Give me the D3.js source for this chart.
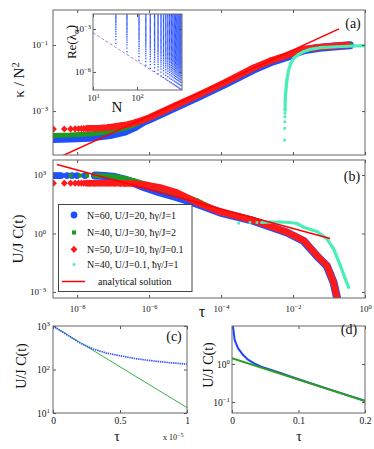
<!DOCTYPE html>
<html>
<head>
<meta charset="utf-8">
<script src="https://cdn.jsdelivr.net/npm/d3@7/dist/d3.min.js"></script>
<style>
  body { margin: 0; background: #fff; }
  text { font-family: "Liberation Serif", "DejaVu Serif", serif; fill: #111; }
</style>
</head>
<body>
<div id="chart"></div>
<script>
// ---------- data ----------
// (a) kappa / N^2 against tau, pairs [tau, value]
var blueA = [[2.14e-9,1.42e-4],[6.34e-9,1.47e-4],[2.28e-8,1.57e-4],[8.18e-8,1.87e-4],[2.14e-7,2.39e-4],
  [4.06e-7,3.27e-4],[6.76e-7,4.65e-4],[1.06e-6,5.7e-4],[5.24e-6,1.27e-3],[2.59e-5,2.82e-3],[1.28e-4,6.5e-3],
  [8.04e-4,1.8e-2],[2.28e-3,2.95e-2],[6.76e-3,4.35e-2],[1.28e-2,5.8e-2],[2.14e-2,7.1e-2],[5.58e-2,8.3e-2],
  [0.166,9.2e-2],[0.38,9.9e-2]];
var greenA = [[2.14e-9,1.81e-4],[6.34e-9,1.87e-4],[2.28e-8,2.01e-4],[8.18e-8,2.39e-4],[2.14e-7,3.05e-4],
  [4.06e-7,3.9e-4],[6.76e-7,4.98e-4],[1.06e-6,6.14e-4],[5.24e-6,1.37e-3],[2.59e-5,3.05e-3],[1.28e-4,7.05e-3],
  [8.04e-4,1.94e-2],[2.28e-3,3.16e-2],[6.76e-3,4.65e-2],[1.28e-2,6.14e-2],[2.14e-2,7.41e-2],[5.58e-2,8.51e-2],
  [0.166,9.33e-2],[0.38,0.1]];
var redDotsA = [[2.2e-9,2.85e-4],[4.4e-9,2.87e-4],[6.6e-9,2.88e-4],[8.8e-9,2.9e-4],[1.1e-8,2.92e-4],
  [1.32e-8,2.93e-4],[1.54e-8,2.95e-4],[1.76e-8,2.97e-4]];
var redA = [[1.98e-8,2.98e-4],[2.2e-8,3.0e-4],[3e-8,3.02e-4],[4.5e-8,3.07e-4],[7e-8,3.2e-4],[1.1e-7,3.4e-4],
  [1.7e-7,3.65e-4],[2.6e-7,3.95e-4],[4e-7,4.5e-4],[6.5e-7,5.3e-4],[1.06e-6,6.5e-4],[5.24e-6,1.45e-3],
  [2.59e-5,3.2e-3],[1.28e-4,7.4e-3],[8.04e-4,2.05e-2],[2.28e-3,3.3e-2],[6.76e-3,4.85e-2],[1.28e-2,6.35e-2],
  [2.14e-2,7.6e-2],[4.13e-2,8.3e-2],[7.83e-2,8.9e-2],[0.134,9.3e-2],[0.185,9.6e-2],[0.33,0.1]];
var cyanDotsA = [[5.83e-3,1.32e-4],[5.86e-3,2.99e-4],[5.9e-3,4.74e-4],[5.94e-3,6.71e-4],[5.97e-3,8.51e-4]];
var cyanA = [[6.0e-3,1.07e-3],[6.07e-3,2.15e-3],[6.34e-3,4.33e-3],[6.76e-3,8.71e-3],[7.53e-3,1.75e-2],
  [8.73e-3,2.79e-2],[1.04e-2,3.95e-2],[1.43e-2,5.22e-2],[1.97e-2,6.27e-2],[3.0e-2,7.41e-2],[5.69e-2,8.28e-2],
  [0.166,8.87e-2],[0.482,9.33e-2],[1.0,9.55e-2]];
var analyticA = [[2.14e-9,3.28e-5],[0.19,0.309]];

// (a) inset: Re(lambda_alpha) against N
var insetN = [33, 59, 111, 158, 200, 250, 300, 350, 400, 450, 500, 550, 600, 650, 700, 750, 800, 850, 900, 950, 1000];
var insetLow = [1.0e-4, 2.6e-5, 6.5e-6, 3.0e-6, 1.8e-6, 1.1e-6, 7.5e-7, 5.4e-7, 4.1e-7, 3.2e-7, 2.55e-7, 2.1e-7,
  1.75e-7, 1.5e-7, 1.28e-7, 1.11e-7, 9.7e-8, 8.6e-8, 7.6e-8, 6.8e-8, 6.1e-8];
var insetRatio = [1, 1.8, 3, 4.5, 6.5, 9, 12, 16, 21, 27, 34, 42, 52, 64, 78, 95, 115, 140, 170, 205, 250, 300,
  360, 430, 520, 620, 750, 900, 1080, 1300, 1560, 1870, 2250, 2700, 3250, 3900, 4700, 5600, 6700, 8000, 9600,
  11500, 13800, 16500, 19800, 23800, 28500, 34000, 41000, 49000, 59000, 71000, 85000, 102000, 122000, 147000,
  176000, 211000];
var insetFit = [[10,5.5e-4],[1050,5.5e-8]];

// (b) U/J C(t) against tau
var blueDotsB = [[2.14e-9,942],[2.43e-9,942],[2.76e-9,942],[3.14e-9,942],[3.57e-9,942],[5.24e-9,942],
  [7.21e-9,942],[9.93e-9,942],[1.66e-8,942]];
var blueB = [[3.14e-8,942],[5.95e-8,889],[1.13e-7,789],[2.14e-7,587],[4.06e-7,366],[7.69e-7,229],[2e-6,127],
  [5.83e-6,72.8],[1.69e-5,38.9],[9.48e-5,11.9],[8.04e-4,4.38],[6.76e-3,1.12],[1.97e-2,0.412],[4.6e-2,7.02e-2],
  [8.73e-2,2.15e-2],[0.134,3.07e-3],[0.166,5.22e-4]];
var greenDotsB = [[6.64e-9,942],[1.2e-8,942],[1.9e-8,942]];
var greenB = [[3.14e-8,942],[8.18e-8,889],[1.55e-7,745],[3.64e-7,522],[1.06e-6,290],[3.08e-6,160],[8.89e-6,88.9],
  [2.09e-5,49.2],[9.48e-5,12.3],[8.04e-4,4.5],[6.76e-3,1.15],[1.97e-2,0.425],[4.6e-2,7.2e-2],[8.73e-2,2.2e-2],
  [0.134,3.1e-3],[0.163,6e-4]];
var redDotsB = [[2.2e-9,380],[4.4e-9,380],[6.6e-9,380],[8.8e-9,380],[1.1e-8,380],[1.32e-8,380],[1.54e-8,380],
  [1.76e-8,380]];
var redB = [[1.98e-8,380],[2.2e-8,380],[3e-8,380],[4.5e-8,380],[7e-8,378],[1.1e-7,376],[1.6e-7,374],[2.14e-7,372],
  [3.64e-7,366],[8.57e-7,307],[2e-6,229],[5.83e-6,127],[1.69e-5,49.2],[2.59e-5,33.3],[9.48e-5,12.7],[8.04e-4,4.64],
  [6.76e-3,1.17],[1.97e-2,0.438],[4.6e-2,7.45e-2],[8.73e-2,2.29e-2],[0.134,3.18e-3],[0.166,4.8e-4]];
var cyanDotsB = [[3.08e-4,3.37],[6.34e-4,3.66],[9.93e-4,3.66]];
var cyanB = [[1.37e-3,3.66],[2.28e-3,3.89],[4.33e-3,3.89],[8.18e-3,3.66],[1.28e-2,3.26],[1.97e-2,2.1],[4.6e-2,1.27],
  [8.73e-2,0.535],[0.134,0.164],[0.205,2.29e-2],[0.282,4.75e-3],[0.35,1.76e-3]];
var analyticB = [[2.75e-9,3430],[0.107,0.55]];
var legendLabels = ["N=60, U/J=20, \u0127\u03b3/J=1", "N=40, U/J=30, \u0127\u03b3/J=2",
  "N=50, U/J=10, \u0127\u03b3/J=0.1", "N=40, U/J=0.1, \u0127\u03b3/J=1", "analytical solution"];

// (c) short times
var cTau = [0, 0.5e-6, 1e-6, 2e-6, 3e-6, 4e-6, 5e-6, 6.25e-6, 7.5e-6, 8.75e-6, 1e-5];
var cBlue = [1000, 800, 640, 410, 295, 238, 207, 176, 157, 143, 133];
var cGreenTau = [0, 1e-5];
var cGreen = [1000, 13.3];

// (d) longer times
var dTau = [0.0006, 0.0015, 0.004, 0.009, 0.0165, 0.024, 0.034, 0.044, 0.059, 0.074, 0.089, 0.1, 0.15, 0.2];
var dBlue = [14, 9.6, 4.3, 2.6, 1.75, 1.3, 1.02, 0.85, 0.7, 0.57, 0.46, 0.395, 0.205, 0.107];
var dGreenTau = [0, 0.2];
var dGreen = [1.41, 0.106];

// ---------- colours ----------
var BLUE = "#1f4fff", GREEN = "#1e9a1e", RED = "#ff1a1a", CYAN = "#48efb6";

var svg = d3.select("#chart").append("svg")
  .attr("width", 374).attr("height", 449);
svg.append("rect").attr("width", 374).attr("height", 449).attr("fill", "#fff");

// scales
var xAB = d3.scaleLog().domain([Math.pow(10, -8.67), 1]).range([53, 365]);
var yA = d3.scaleLog().domain([Math.pow(10, -4.33), Math.pow(10, 0.06)]).range([155, 10]);
var yB = d3.scaleLog().domain([Math.pow(10, -3.31), Math.pow(10, 3.77)]).range([298, 160]);
var xC = d3.scaleLinear().domain([0, 1e-5]).range([53, 187]);
var yC = d3.scaleLog().domain([10, 1000]).range([413, 326]);
var xD = d3.scaleLinear().domain([0, 0.2]).range([232, 365]);
var yD = d3.scaleLog().domain([Math.pow(10, -1.29), 10]).range([413, 326]);
var xI = d3.scaleLog().domain([10, 1050]).range([93, 182]);
var yI = d3.scaleLog().domain([Math.pow(10, -7.26), Math.pow(10, -1.95)]).range([90, 14]);

var clipId = 0;
function panel(x, y) {
  var g = svg.append("g");
  var id = "clip" + (clipId++);
  g.append("clipPath").attr("id", id).append("rect")
    .attr("x", x.range()[0]).attr("y", y.range()[1])
    .attr("width", x.range()[1] - x.range()[0]).attr("height", y.range()[0] - y.range()[1]);
  g.inner = g.append("g").attr("clip-path", "url(#" + id + ")");
  return g;
}

function powLabels(sel) {
  sel.selectAll(".tick text").each(function (d) {
    var e = Math.round(Math.log10(d));
    var t = d3.select(this).text(null);
    t.append("tspan").text("10");
    t.append("tspan").attr("dy", "-0.5em").attr("font-size", "0.72em")
      .text(e < 0 ? "\u2212" + (-e) : String(e));
  });
}

// box with inward ticks on all four sides
function frame(g, x, y, o) {
  var x0 = x.range()[0], x1 = x.range()[1], yb = y.range()[0], yt = y.range()[1];
  function style(a) {
    a.select(".domain").remove();
    a.attr("color", "#555").attr("font-family", null).attr("font-size", o.fs || 9);
    a.selectAll(".tick text").attr("fill", "#222");
  }
  var bottom = g.append("g").attr("transform", "translate(0," + yb + ")")
    .call(d3.axisBottom(x).tickValues(o.xt).tickSize(-3).tickPadding(o.xpad || 6)
      .tickFormat(o.xf || function () { return ""; })).call(style);
  g.append("g").attr("transform", "translate(0," + yt + ")")
    .call(d3.axisTop(x).tickValues(o.xt).tickSize(-3).tickFormat("")).call(style);
  var left = g.append("g").attr("transform", "translate(" + x0 + ",0)")
    .call(d3.axisLeft(y).tickValues(o.yt).tickSize(-3).tickPadding(o.ypad || 4)
      .tickFormat(o.yf || function () { return ""; })).call(style);
  g.append("g").attr("transform", "translate(" + x1 + ",0)")
    .call(d3.axisRight(y).tickValues(o.yt).tickSize(-3).tickFormat("")).call(style);
  if (o.xlog) powLabels(bottom);
  if (o.ylog) powLabels(left);
  g.append("rect").attr("x", x0).attr("y", yt).attr("width", x1 - x0).attr("height", yb - yt)
    .attr("fill", "none").attr("stroke", "#666").attr("stroke-width", 1);
}

var diamond = "M0,-3.6L3.4,0L0,3.6L-3.4,0Z";
var styles = {
  blue: { color: BLUE, width: 8, mark: d3.symbol(d3.symbolCircle, 36)() },
  green: { color: GREEN, width: 5, mark: d3.symbol(d3.symbolSquare, 17)() },
  red: { color: RED, width: 6.5, mark: diamond },
  cyan: { color: CYAN, width: 3.2, mark: d3.symbol(d3.symbolSquare, 7)() }
};

function series(g, x, y, dots, band, s) {
  var line = d3.line().x(function (d) { return x(d[0]); }).y(function (d) { return y(d[1]); });
  g.append("path").datum(band).attr("d", line).attr("fill", "none")
    .attr("stroke", s.color).attr("stroke-width", s.width)
    .attr("stroke-linecap", "round").attr("stroke-linejoin", "round");
  g.selectAll(null).data(dots.concat(band)).enter().append("path")
    .attr("transform", function (d) { return "translate(" + x(d[0]) + "," + y(d[1]) + ")"; })
    .attr("d", s.mark).attr("fill", s.color);
}

function plainLine(g, x, y, data, color, width, dash) {
  var line = d3.line().x(function (d) { return x(d[0]); }).y(function (d) { return y(d[1]); });
  g.append("path").datum(data).attr("d", line).attr("fill", "none")
    .attr("stroke", color).attr("stroke-width", width).attr("stroke-dasharray", dash || null);
}

// ---------- panel (a) ----------
var pa = panel(xAB, yA);
series(pa.inner, xAB, yA, [], blueA, styles.blue);
series(pa.inner, xAB, yA, [], greenA, styles.green);
series(pa.inner, xAB, yA, redDotsA, redA, styles.red);
series(pa.inner, xAB, yA, cyanDotsA, cyanA, styles.cyan);
plainLine(pa.inner, xAB, yA, analyticA, "#ff0000", 1.5);
frame(pa, xAB, yA, { xt: [1e-8, 1e-6, 1e-4, 1e-2, 1], yt: [1e-3, 1e-1], ylog: true,
  yf: function (d) { return d; }, ypad: 5, fs: 9 });

// inset
var pi = panel(xI, yI);
pi.insert("rect", ":first-child").attr("x", 93).attr("y", 14).attr("width", 89).attr("height", 76).attr("fill", "#fff");
var insetPts = [];
insetN.forEach(function (n, i) {
  insetRatio.forEach(function (r) { insetPts.push([n, insetLow[i] * r]); });
});
pi.inner.selectAll(null).data(insetPts).enter().append("rect")
  .attr("x", function (d) { return xI(d[0]) - 0.65; })
  .attr("y", function (d) { return yI(d[1]) - 0.65; })
  .attr("width", 1.3).attr("height", 1.3).attr("fill", "#2f55ff");
plainLine(pi.inner, xI, yI, insetFit, "#b07ef0", 1, "3,2");
frame(pi, xI, yI, { xt: [10, 100], yt: [1e-6, 1e-3], xlog: true, ylog: true,
  xf: function (d) { return d; }, yf: function (d) { return d; }, xpad: 5, ypad: 2, fs: 9 });

// ---------- panel (b) ----------
var pb = panel(xAB, yB);
series(pb.inner, xAB, yB, blueDotsB, blueB, styles.blue);
series(pb.inner, xAB, yB, greenDotsB, greenB, styles.green);
series(pb.inner, xAB, yB, redDotsB, redB, styles.red);
series(pb.inner, xAB, yB, cyanDotsB, cyanB, styles.cyan);
plainLine(pb.inner, xAB, yB, analyticB, "#ff0000", 1.5);
frame(pb, xAB, yB, { xt: [1e-8, 1e-6, 1e-4, 1e-2, 1], yt: [1e-3, 1, 1e3], xlog: true, ylog: true,
  xf: function (d) { return d; }, yf: function (d) { return d; }, xpad: 8, ypad: 7, fs: 9 });

// legend
var lg = svg.append("g");
lg.append("rect").attr("x", 58.5).attr("y", 204.5).attr("width", 133.5).attr("height", 87)
  .attr("fill", "#fff").attr("stroke", "#444").attr("stroke-width", 1);
var rowY = [215, 232.5, 249.3, 264.5, 281.5];
var legendStyles = [styles.blue, styles.green, styles.red, styles.cyan];
legendStyles.forEach(function (s, i) {
  lg.append("path").attr("transform", "translate(74," + rowY[i] + ")").attr("d", s.mark).attr("fill", s.color);
  lg.append("text").attr("x", 87).attr("y", rowY[i] + 3.5).attr("font-size", 10).text(legendLabels[i]);
});
lg.append("line").attr("x1", 62).attr("x2", 85).attr("y1", rowY[4]).attr("y2", rowY[4])
  .attr("stroke", "#ff0000").attr("stroke-width", 1.5);
lg.append("text").attr("x", 98).attr("y", rowY[4] + 3.5).attr("font-size", 10).text(legendLabels[4]);

// ---------- panel (c) ----------
var pc = panel(xC, yC);
plainLine(pc.inner, xC, yC, cGreenTau.map(function (t, i) { return [t, cGreen[i]]; }), "#3cb043", 1);
plainLine(pc.inner, xC, yC, cTau.map(function (t, i) { return [t, cBlue[i]]; }), "#3355ff", 1.7, "1.4,0.8");
frame(pc, xC, yC, { xt: [0, 0.5e-5, 1e-5], yt: [10, 100, 1000], ylog: true,
  xf: function (d) { return d3.format("~g")(d / 1e-5); }, yf: function (d) { return d; },
  xpad: 4, ypad: 3, fs: 9.5 });

// ---------- panel (d) ----------
var pd = panel(xD, yD);
plainLine(pd.inner, xD, yD, dTau.map(function (t, i) { return [t, dBlue[i]]; }), "#1f44ff", 2);
plainLine(pd.inner, xD, yD, dGreenTau.map(function (t, i) { return [t, dGreen[i]]; }), "#2b9e1e", 2);
frame(pd, xD, yD, { xt: [0, 0.1, 0.2], yt: [0.1, 1], ylog: true,
  xf: function (d) { return d3.format("~g")(d); }, yf: function (d) { return d; },
  xpad: 4, ypad: 2, fs: 9.5 });

// ---------- labels ----------
function vlabel(x, y, size) {
  return svg.append("text").attr("transform", "translate(" + x + "," + y + ") rotate(-90)")
    .attr("text-anchor", "middle").attr("font-size", size);
}
var k = vlabel(24, 80, 15);
k.append("tspan").text("\u03ba / N");
k.append("tspan").attr("dy", "-0.45em").attr("font-size", "0.7em").text("2");
vlabel(23, 239, 15).text("U/J C(t)");
vlabel(26, 366, 14).text("U/J C(t)");
vlabel(213, 365, 14).text("U/J C(t)");
var re = vlabel(76, 42, 13);
re.append("tspan").text("Re(\u03bb");
re.append("tspan").attr("dy", "0.35em").attr("font-size", "0.7em").text("\u03b1");
re.append("tspan").attr("dy", "-0.35em").text(")");

function label(x, y, size, str) {
  return svg.append("text").attr("x", x).attr("y", y).attr("text-anchor", "middle")
    .attr("font-size", size).text(str);
}
label(117, 112, 15, "N");
label(202, 317, 16, "\u03c4");
label(117, 441, 14, "\u03c4");
label(299, 441, 14, "\u03c4");
label(353, 28, 14, "(a)");
label(352, 181, 14, "(b)");
label(174, 341, 14, "(c)");
label(349, 334, 14, "(d)");
var mult = svg.append("text").attr("x", 163).attr("y", 440).attr("font-size", 8);
mult.append("tspan").text("x 10");
mult.append("tspan").attr("dy", "-0.5em").attr("font-size", "0.75em").text("\u22125");
</script>
</body>
</html>
